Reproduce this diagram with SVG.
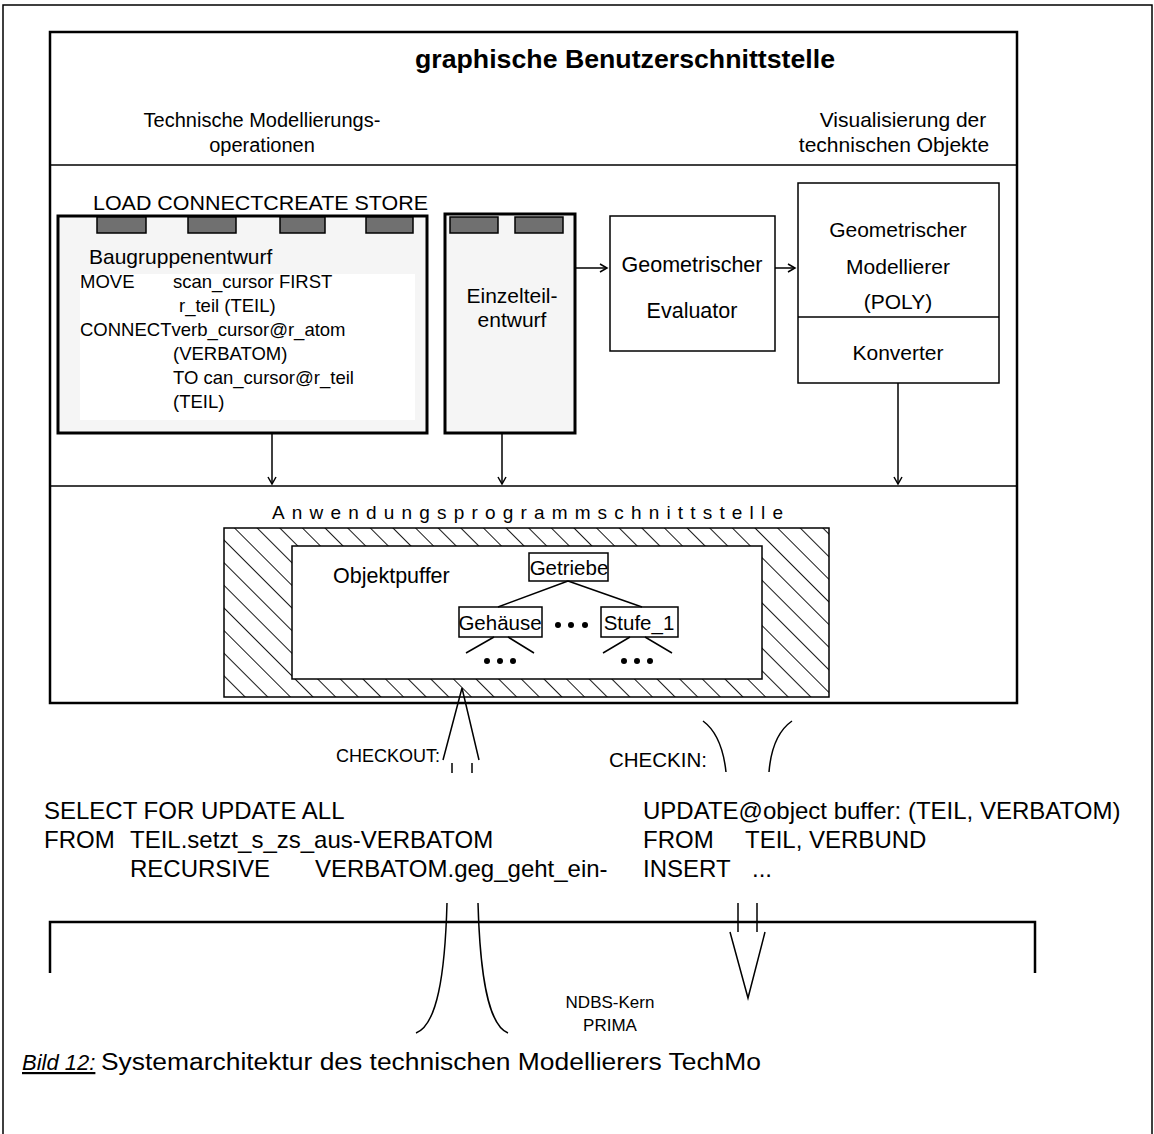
<svg xmlns="http://www.w3.org/2000/svg" width="1154" height="1134" viewBox="0 0 1154 1134">
<style>
text{font-family:"Liberation Sans",Arial,sans-serif;fill:#000}
.t17{font-size:17px}
.t18{font-size:18.5px}
.t20{font-size:20px}
.t21{font-size:21px}
.t24{font-size:24px}
.ln{stroke:#000;stroke-width:1.5;fill:none}
.thk{stroke:#000;stroke-width:2.5;fill:none}
.tab{fill:#707070;stroke:#000;stroke-width:1.5}
</style>
<defs>
<pattern id="hatch" patternUnits="userSpaceOnUse" width="16" height="16" patternTransform="rotate(-45)">
<rect width="16" height="16" fill="#fff"/>
<line x1="0" y1="0" x2="0" y2="16" stroke="#000" stroke-width="1.8"/>
</pattern>
<marker id="arr" markerWidth="10" markerHeight="10" refX="8" refY="5" orient="auto" markerUnits="userSpaceOnUse">
<path d="M1,1 L8,5 L1,9" fill="none" stroke="#000" stroke-width="1.5"/>
</marker>
</defs>
<rect x="0" y="0" width="1154" height="1134" fill="#fff"/>
<rect id="frame" x="3" y="5" width="1149" height="1140" fill="none" stroke="#000" stroke-width="1.5"/>

<g id="mainbox">
<rect x="50" y="32" width="967" height="671" class="thk"/>
<line x1="50" y1="165" x2="1017" y2="165" class="ln"/>
<line x1="50" y1="486" x2="1017" y2="486" class="ln"/>
<text x="415" y="68" font-size="25" font-weight="bold" textLength="420" lengthAdjust="spacingAndGlyphs">graphische Benutzerschnittstelle</text>
<text x="262" y="127" text-anchor="middle" class="t20">Technische Modellierungs-</text>
<text x="262" y="152" text-anchor="middle" class="t20">operationen</text>
<text x="903" y="127" text-anchor="middle" class="t21">Visualisierung der</text>
<text x="894" y="152" text-anchor="middle" class="t21">technischen Objekte</text>
</g>

<g id="baugruppe">
<text x="93" y="210" class="t21" textLength="335" lengthAdjust="spacingAndGlyphs">LOAD CONNECTCREATE STORE</text>
<rect x="58" y="216" width="369" height="217" fill="#f5f5f5" stroke="#000" stroke-width="3"/>
<rect x="80" y="274" width="335" height="146" fill="#fff"/>
<rect x="97" y="217" width="49" height="16" class="tab"/>
<rect x="188" y="217" width="48" height="16" class="tab"/>
<rect x="280" y="217" width="45" height="16" class="tab"/>
<rect x="366" y="217" width="47" height="16" class="tab"/>
<text x="89" y="264" class="t21">Baugruppenentwurf</text>
<g class="t18">
<text x="80" y="288">MOVE</text>
<text x="173" y="288">scan_cursor FIRST</text>
<text x="179" y="312">r_teil (TEIL)</text>
<text x="80" y="336">CONNECTverb_cursor@r_atom</text>
<text x="173" y="360">(VERBATOM)</text>
<text x="173" y="384">TO can_cursor@r_teil</text>
<text x="173" y="408">(TEIL)</text>
</g>
</g>

<g id="einzelteil">
<rect x="445" y="214" width="130" height="219" fill="#f5f5f5" stroke="#000" stroke-width="3"/>
<rect x="450" y="217" width="48" height="16" class="tab"/>
<rect x="515" y="217" width="48" height="16" class="tab"/>
<text x="512" y="303" text-anchor="middle" class="t21">Einzelteil-</text>
<text x="512" y="327" text-anchor="middle" class="t21">entwurf</text>
</g>

<g id="evaluator">
<rect x="610" y="216" width="165" height="135" class="ln" fill="#fff"/>
<text x="692" y="272" text-anchor="middle" font-size="21.5">Geometrischer</text>
<text x="692" y="318" text-anchor="middle" font-size="21.5">Evaluator</text>
</g>

<g id="modellierer">
<rect x="798" y="183" width="201" height="200" class="ln" fill="#fff"/>
<line x1="798" y1="317" x2="999" y2="317" class="ln"/>
<text x="898" y="237" text-anchor="middle" class="t21">Geometrischer</text>
<text x="898" y="274" text-anchor="middle" class="t21">Modellierer</text>
<text x="898" y="309" text-anchor="middle" class="t21">(POLY)</text>
<text x="898" y="360" text-anchor="middle" class="t21">Konverter</text>
</g>

<g id="api">
<text x="272" y="519" font-size="19" textLength="511" lengthAdjust="spacing">Anwendungsprogrammschnittstelle</text>
<rect x="224" y="528" width="605" height="169" fill="url(#hatch)" stroke="#000" stroke-width="1.5"/>
<rect x="292" y="546" width="470" height="133" fill="#fff" stroke="#000" stroke-width="1.5"/>
<text x="333" y="583" font-size="21.5">Objektpuffer</text>
</g>

<g id="getriebe">
<rect x="529" y="553" width="79" height="28" class="ln" fill="#fff"/>
<text x="569" y="575" text-anchor="middle" font-size="20.5">Getriebe</text>
</g>
<g id="gehaeuse">
<rect x="459" y="607" width="83" height="30" class="ln" fill="#fff"/>
<text x="500" y="630" text-anchor="middle" font-size="20.5">Gehäuse</text>
</g>
<g id="stufe">
<rect x="601" y="607" width="77" height="30" class="ln" fill="#fff"/>
<text x="639" y="630" text-anchor="middle" font-size="20.5">Stufe_1</text>
</g>
<g id="tree-dots" fill="#000">
<circle cx="558" cy="625" r="3"/><circle cx="571" cy="625" r="3"/><circle cx="585" cy="625" r="3"/>
<circle cx="487" cy="661" r="3"/><circle cx="500" cy="661" r="3"/><circle cx="513" cy="661" r="3"/>
<circle cx="624" cy="661" r="3"/><circle cx="637" cy="661" r="3"/><circle cx="650" cy="661" r="3"/>
</g>

<g id="connectors">
<line x1="568" y1="581" x2="498" y2="607" class="ln"/>
<line x1="568" y1="581" x2="642" y2="607" class="ln"/>
<line x1="494" y1="637" x2="466" y2="653" class="ln"/>
<line x1="508" y1="637" x2="534" y2="653" class="ln"/>
<line x1="630" y1="637" x2="603" y2="653" class="ln"/>
<line x1="645" y1="637" x2="672" y2="653" class="ln"/>
<line x1="575" y1="268" x2="607" y2="268" class="ln" marker-end="url(#arr)"/>
<line x1="775" y1="268" x2="795" y2="268" class="ln" marker-end="url(#arr)"/>
<line x1="272" y1="433" x2="272" y2="484" class="ln" marker-end="url(#arr)"/>
<line x1="502" y1="433" x2="502" y2="484" class="ln" marker-end="url(#arr)"/>
<line x1="898" y1="383" x2="898" y2="484" class="ln" marker-end="url(#arr)"/>
<path d="M443,760 L462,688 L479,760" class="ln"/>
<line x1="452" y1="763" x2="452" y2="773" class="ln"/>
<line x1="472" y1="763" x2="472" y2="773" class="ln"/>
<path d="M703,721 Q722,735 726,772" class="ln"/>
<path d="M792,721 Q772,735 769,772" class="ln"/>
<path d="M447,903 C445,975 437,1025 416,1033" class="ln"/>
<path d="M478,903 C480,975 488,1025 508,1033" class="ln"/>
<line x1="738" y1="903" x2="738" y2="932" class="ln"/>
<line x1="757" y1="903" x2="757" y2="932" class="ln"/>
<path d="M730,932 L748,998 L765,932" class="ln"/>
</g>

<g id="checkout">
<text x="440" y="762" text-anchor="end" font-size="18">CHECKOUT:</text>
<text x="609" y="767" font-size="20.5">CHECKIN:</text>
</g>

<g id="select" class="t24">
<text x="44" y="819">SELECT FOR UPDATE ALL</text>
<text x="44" y="848">FROM</text>
<text x="130" y="848">TEIL.setzt_s_zs_aus-VERBATOM</text>
<text x="130" y="877">RECURSIVE</text>
<text x="315" y="877">VERBATOM.geg_geht_ein-</text>
</g>
<g id="update" class="t24">
<text x="643" y="819">UPDATE@object buffer: (TEIL, VERBATOM)</text>
<text x="643" y="848">FROM</text>
<text x="745" y="848">TEIL, VERBUND</text>
<text x="643" y="877">INSERT</text>
<text x="752" y="877">...</text>
</g>

<g id="ndbs">
<path d="M50,973 L50,922 L1035,922 L1035,973" class="thk"/>
<text x="610" y="1008" text-anchor="middle" class="t17">NDBS-Kern</text>
<text x="610" y="1031" text-anchor="middle" class="t17">PRIMA</text>
</g>

<g id="caption">
<text x="22" y="1070" font-size="22" font-style="italic" text-decoration="underline">Bild 12:</text>
<text x="101" y="1070" font-size="23" textLength="660" lengthAdjust="spacingAndGlyphs">Systemarchitektur des technischen Modellierers TechMo</text>
</g>
</svg>
